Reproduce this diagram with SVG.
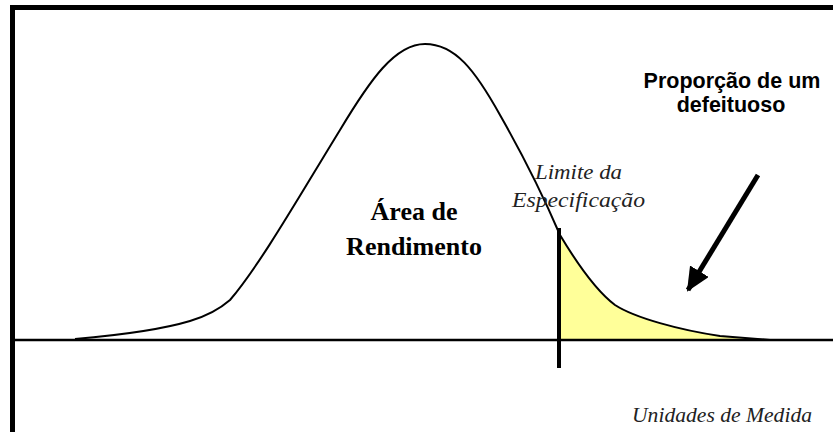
<svg xmlns="http://www.w3.org/2000/svg" width="833" height="432" viewBox="0 0 833 432">
<style>
.border{stroke:#000;stroke-width:5;fill:none}
.axis{stroke:#000;stroke-width:2.5;fill:none}
.curve{stroke:#000;stroke-width:2;fill:none;stroke-linejoin:round}
.spec{stroke:#000;stroke-width:4;fill:none}
.arrow{stroke:#000;stroke-width:5;fill:none}
.tail{fill:#ffff99;stroke:none}
.bold-serif{font-family:"Liberation Serif","Times New Roman",serif;font-weight:bold;font-size:26px;fill:#000}
.ital{font-family:"Liberation Serif","Times New Roman",serif;font-style:italic;font-size:21px;fill:#222}
.bold-sans{font-family:"Liberation Sans",Arial,sans-serif;font-weight:bold;font-size:21.5px;fill:#000}
</style>
<defs>
<marker id="ah" markerUnits="userSpaceOnUse" markerWidth="24" markerHeight="22" refX="22" refY="11" orient="auto">
<path d="M0,0 L24,11 L0,22 Z" fill="#000"/>
</marker>
</defs>
<rect width="833" height="432" fill="#fff"/>
<g id="frame">
<path class="border" d="M12.5,432 L12.5,7.5 L833,7.5"/>
</g>
<g id="tail-area">
<path class="tail" d="M560,235 C575,260 595,290 615,305 C635,318 680,330 720,336 L770,340 L560,340 Z"/>
</g>
<g id="axis">
<line class="axis" x1="12" y1="340" x2="833" y2="340"/>
</g>
<g id="curve">
<path class="curve" d="M75,339 C110,336 160,330 190,321 C210,315 222,307 230,300 C260,265 300,195 340,130 C370,80 395,44 425,44 C455,44 475,70 500,115 C520,150 545,200 560,235 C575,260 595,290 615,305 C635,318 680,330 720,336 L770,340"/>
</g>
<g id="connectors">
<line class="spec" x1="559" y1="228" x2="559" y2="368"/>
<line class="arrow" x1="758" y1="175" x2="688" y2="290" marker-end="url(#ah)"/>
</g>
<g id="label-area">
<text class="bold-serif" x="414" y="220" text-anchor="middle">Área de</text>
<text class="bold-serif" x="414" y="255" text-anchor="middle">Rendimento</text>
</g>
<g id="label-limite">
<text class="ital" x="535" y="179" textLength="87" lengthAdjust="spacingAndGlyphs">Limite da</text>
<text class="ital" x="512" y="207" textLength="133" lengthAdjust="spacingAndGlyphs">Especificação</text>
</g>
<g id="label-proporcao">
<text class="bold-sans" x="732" y="88" text-anchor="middle">Proporção de um</text>
<text class="bold-sans" x="731" y="112" text-anchor="middle">defeituoso</text>
</g>
<g id="label-unidades">
<text class="ital" x="632" y="422" font-size="19" textLength="180" lengthAdjust="spacingAndGlyphs">Unidades de Medida</text>
</g>
</svg>
